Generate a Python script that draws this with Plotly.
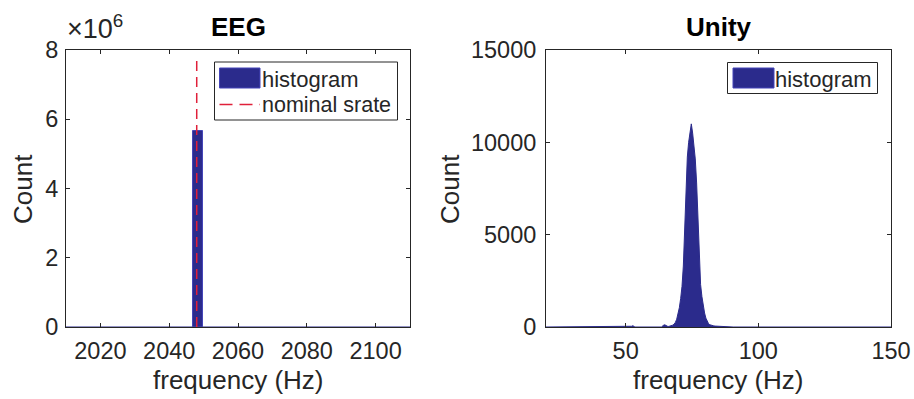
import plotly.graph_objects as go

# ---------------- data ----------------
# EEG panel
eeg_bin_centers = [2048.25]
eeg_bin_counts = [5.67e6]
eeg_bin_width = 2.9
eeg_hist_span = [2010, 2110]
nominal_srate = 2048
nominal_line_top = 7.78e6
eeg_xticks = [2020, 2040, 2060, 2080, 2100]
eeg_yticks = [0, 2e6, 4e6, 6e6, 8e6]
eeg_yticktext = ["0", "2", "4", "6", "8"]

# Unity panel (histogram, 0.5 Hz bins)
unity_bin_width = 0.5
unity_bin_centers = [52.25, 52.75, 53.25,
                     63.75, 64.25, 64.75, 65.25, 65.75,
                     66.25, 66.75, 67.25, 67.75, 68.25, 68.75, 69.25, 69.75,
                     70.25, 70.75, 71.25, 71.75, 72.25, 72.75, 73.25, 73.75,
                     74.25, 74.75, 75.25, 75.75, 76.25, 76.75, 77.25, 77.75,
                     78.25, 78.75, 79.25, 79.75, 80.25, 80.75, 81.25, 81.75,
                     82.25, 82.75, 83.25, 83.75, 84.25, 84.75, 85.25, 85.75,
                     86.25, 86.75, 87.25, 87.75, 88.25, 88.75, 89.25, 89.75, 90.25]
unity_bin_counts = [40, 70, 40,
                    40, 90, 120, 70, 40,
                    30, 45, 70, 100, 150, 250, 420, 680,
                    1050, 1550, 2200, 3300, 5600, 7900, 9200, 10000,
                    10600, 11000, 10500, 9900, 9100, 7800, 5600, 3400,
                    2300, 1650, 1150, 760, 480, 300, 180, 120,
                    90, 70, 60, 50, 45, 40, 40, 35,
                    35, 30, 30, 30, 25, 25, 20, 20, 15]
unity_hist_span = [20, 150]
unity_xticks = [50, 100, 150]
unity_yticks = [0, 5000, 10000, 15000]
unity_yticktext = ["0", "5000", "10000", "15000"]

# ---------------- style ----------------
NAVY = "#2B2B8C"
NAVY_EDGE = "#4545B8"
RED = "#E0203A"
INK = "#262626"
FONT = "Liberation Sans, Arial, Helvetica, sans-serif"

W, H = 914, 399
ML, MR, MT, MB = 66, 23, 50, 72
PW, PH = W - ML - MR, H - MT - MB


def px_x(px):
    return (px - ML) / PW


def px_y(py):
    return (H - MB - py) / PH


def hist_outline(centers, counts, width, span):
    """Outline through bin centres, dropping to zero across empty bins."""
    xs, ys = [span[0]], [0]
    for i, (c, n) in enumerate(zip(centers, counts)):
        prev = centers[i - 1] if i > 0 else None
        if prev is None or abs(c - prev - width) > 1e-9:
            xs.append(c - width / 2)
            ys.append(0)
        xs.append(c)
        ys.append(n)
        nxt = centers[i + 1] if i + 1 < len(centers) else None
        if nxt is None or abs(nxt - c - width) > 1e-9:
            xs.append(c + width / 2)
            ys.append(0)
    xs.append(span[1])
    ys.append(0)
    return xs, ys


fig = go.Figure()

# EEG histogram
fig.add_trace(go.Scatter(x=eeg_hist_span, y=[0, 0], mode="lines",
                         line=dict(color=NAVY, width=1.2), showlegend=False,
                         xaxis="x", yaxis="y", hoverinfo="skip"))
fig.add_trace(go.Bar(x=eeg_bin_centers, y=eeg_bin_counts, width=eeg_bin_width,
                     marker=dict(color=NAVY, line=dict(color=NAVY_EDGE, width=1)),
                     name="histogram", showlegend=False, xaxis="x", yaxis="y"))
fig.add_trace(go.Scatter(x=[nominal_srate, nominal_srate], y=[0, nominal_line_top],
                         mode="lines", line=dict(color=RED, width=1.5, dash="10px,6px"),
                         name="nominal srate", showlegend=False, xaxis="x", yaxis="y"))

# Unity histogram
ux, uy = hist_outline(unity_bin_centers, unity_bin_counts, unity_bin_width, unity_hist_span)
fig.add_trace(go.Scatter(x=ux, y=uy, mode="lines",
                         line=dict(color=NAVY, width=1), fill="tozeroy",
                         fillcolor=NAVY, name="histogram", showlegend=False,
                         xaxis="x2", yaxis="y2"))

axis_common = dict(showline=True, linecolor=INK, linewidth=1, mirror="ticks",
                   ticks="inside", ticklen=4, tickcolor=INK, tickwidth=1,
                   showgrid=False, zeroline=False, ticklabeloverflow="allow",
                   automargin=False,
                   tickfont=dict(family=FONT, size=23.5, color=INK))

fig.update_layout(
    width=W, height=H,
    margin=dict(l=ML, r=MR, t=MT, b=MB, autoexpand=False),
    paper_bgcolor="white", plot_bgcolor="white",
    showlegend=False, bargap=0,
    font=dict(family=FONT, color=INK),
    xaxis=dict(domain=[0, px_x(410)], range=[2010, 2110], tickvals=eeg_xticks,
               ticklabelstandoff=3, anchor="y", **axis_common),
    yaxis=dict(domain=[0, 1], range=[0, 8e6], tickvals=eeg_yticks, ticktext=eeg_yticktext,
               ticklabelstandoff=2, anchor="x", **axis_common),
    xaxis2=dict(domain=[px_x(546), 1], range=[20, 150], tickvals=unity_xticks,
                ticklabelstandoff=3, anchor="y2", **axis_common),
    yaxis2=dict(domain=[0, 1], range=[0, 15000], tickvals=unity_yticks,
                ticktext=unity_yticktext, ticklabelstandoff=4,
                anchor="x2", **axis_common),
)


def text_ann(text, x, y, size, color=INK, xanchor="center", yanchor="middle", angle=0):
    return dict(text=text, x=px_x(x), y=px_y(y), xref="paper", yref="paper",
                showarrow=False, font=dict(size=size, family=FONT, color=color),
                xanchor=xanchor, yanchor=yanchor, textangle=angle)


annotations = [
    text_ann("<b>EEG</b>", 238, 27, 26, color="black"),
    text_ann("<b>Unity</b>", 718.5, 27, 26, color="black"),
    text_ann("×10<sup>6</sup>", 65, 46, 27, xanchor="left", yanchor="bottom"),
    # axis titles
    text_ann("frequency (Hz)", 238, 380, 26),
    text_ann("frequency (Hz)", 718.5, 380, 26),
    text_ann("Count", 23, 189, 26, angle=-90),
    text_ann("Count", 450, 189, 26, angle=-90),
    # legend texts
    text_ann("histogram", 260, 79, 22, xanchor="left"),
    text_ann("nominal srate", 260, 105, 21.5, xanchor="left"),
    text_ann("histogram", 773, 79, 22, xanchor="left"),
]

shapes = [
    # EEG legend box
    dict(type="rect", xref="paper", yref="paper", x0=px_x(214.5), x1=px_x(397.5),
         y0=px_y(62), y1=px_y(120), line=dict(color=INK, width=1), fillcolor="white", layer="above"),
    dict(type="rect", xref="paper", yref="paper", x0=px_x(219.5), x1=px_x(260),
         y0=px_y(68), y1=px_y(88), line=dict(color=NAVY_EDGE, width=1), fillcolor=NAVY, layer="above"),
    dict(type="line", xref="paper", yref="paper", x0=px_x(219.5), x1=px_x(260),
         y0=px_y(104.5), y1=px_y(104.5), line=dict(color=RED, width=1.5, dash="13px,7px"), layer="above"),
    # Unity legend box
    dict(type="rect", xref="paper", yref="paper", x0=px_x(727.5), x1=px_x(877.5),
         y0=px_y(62.5), y1=px_y(93.5), line=dict(color=INK, width=1), fillcolor="white", layer="above"),
    dict(type="rect", xref="paper", yref="paper", x0=px_x(733), x1=px_x(774),
         y0=px_y(68), y1=px_y(88), line=dict(color=NAVY_EDGE, width=1), fillcolor=NAVY, layer="above"),
]

fig.update_layout(annotations=annotations, shapes=shapes)

fig.write_html("out.html", config={"displayModeBar": False},
               post_script="document.body.style.margin='0';")
